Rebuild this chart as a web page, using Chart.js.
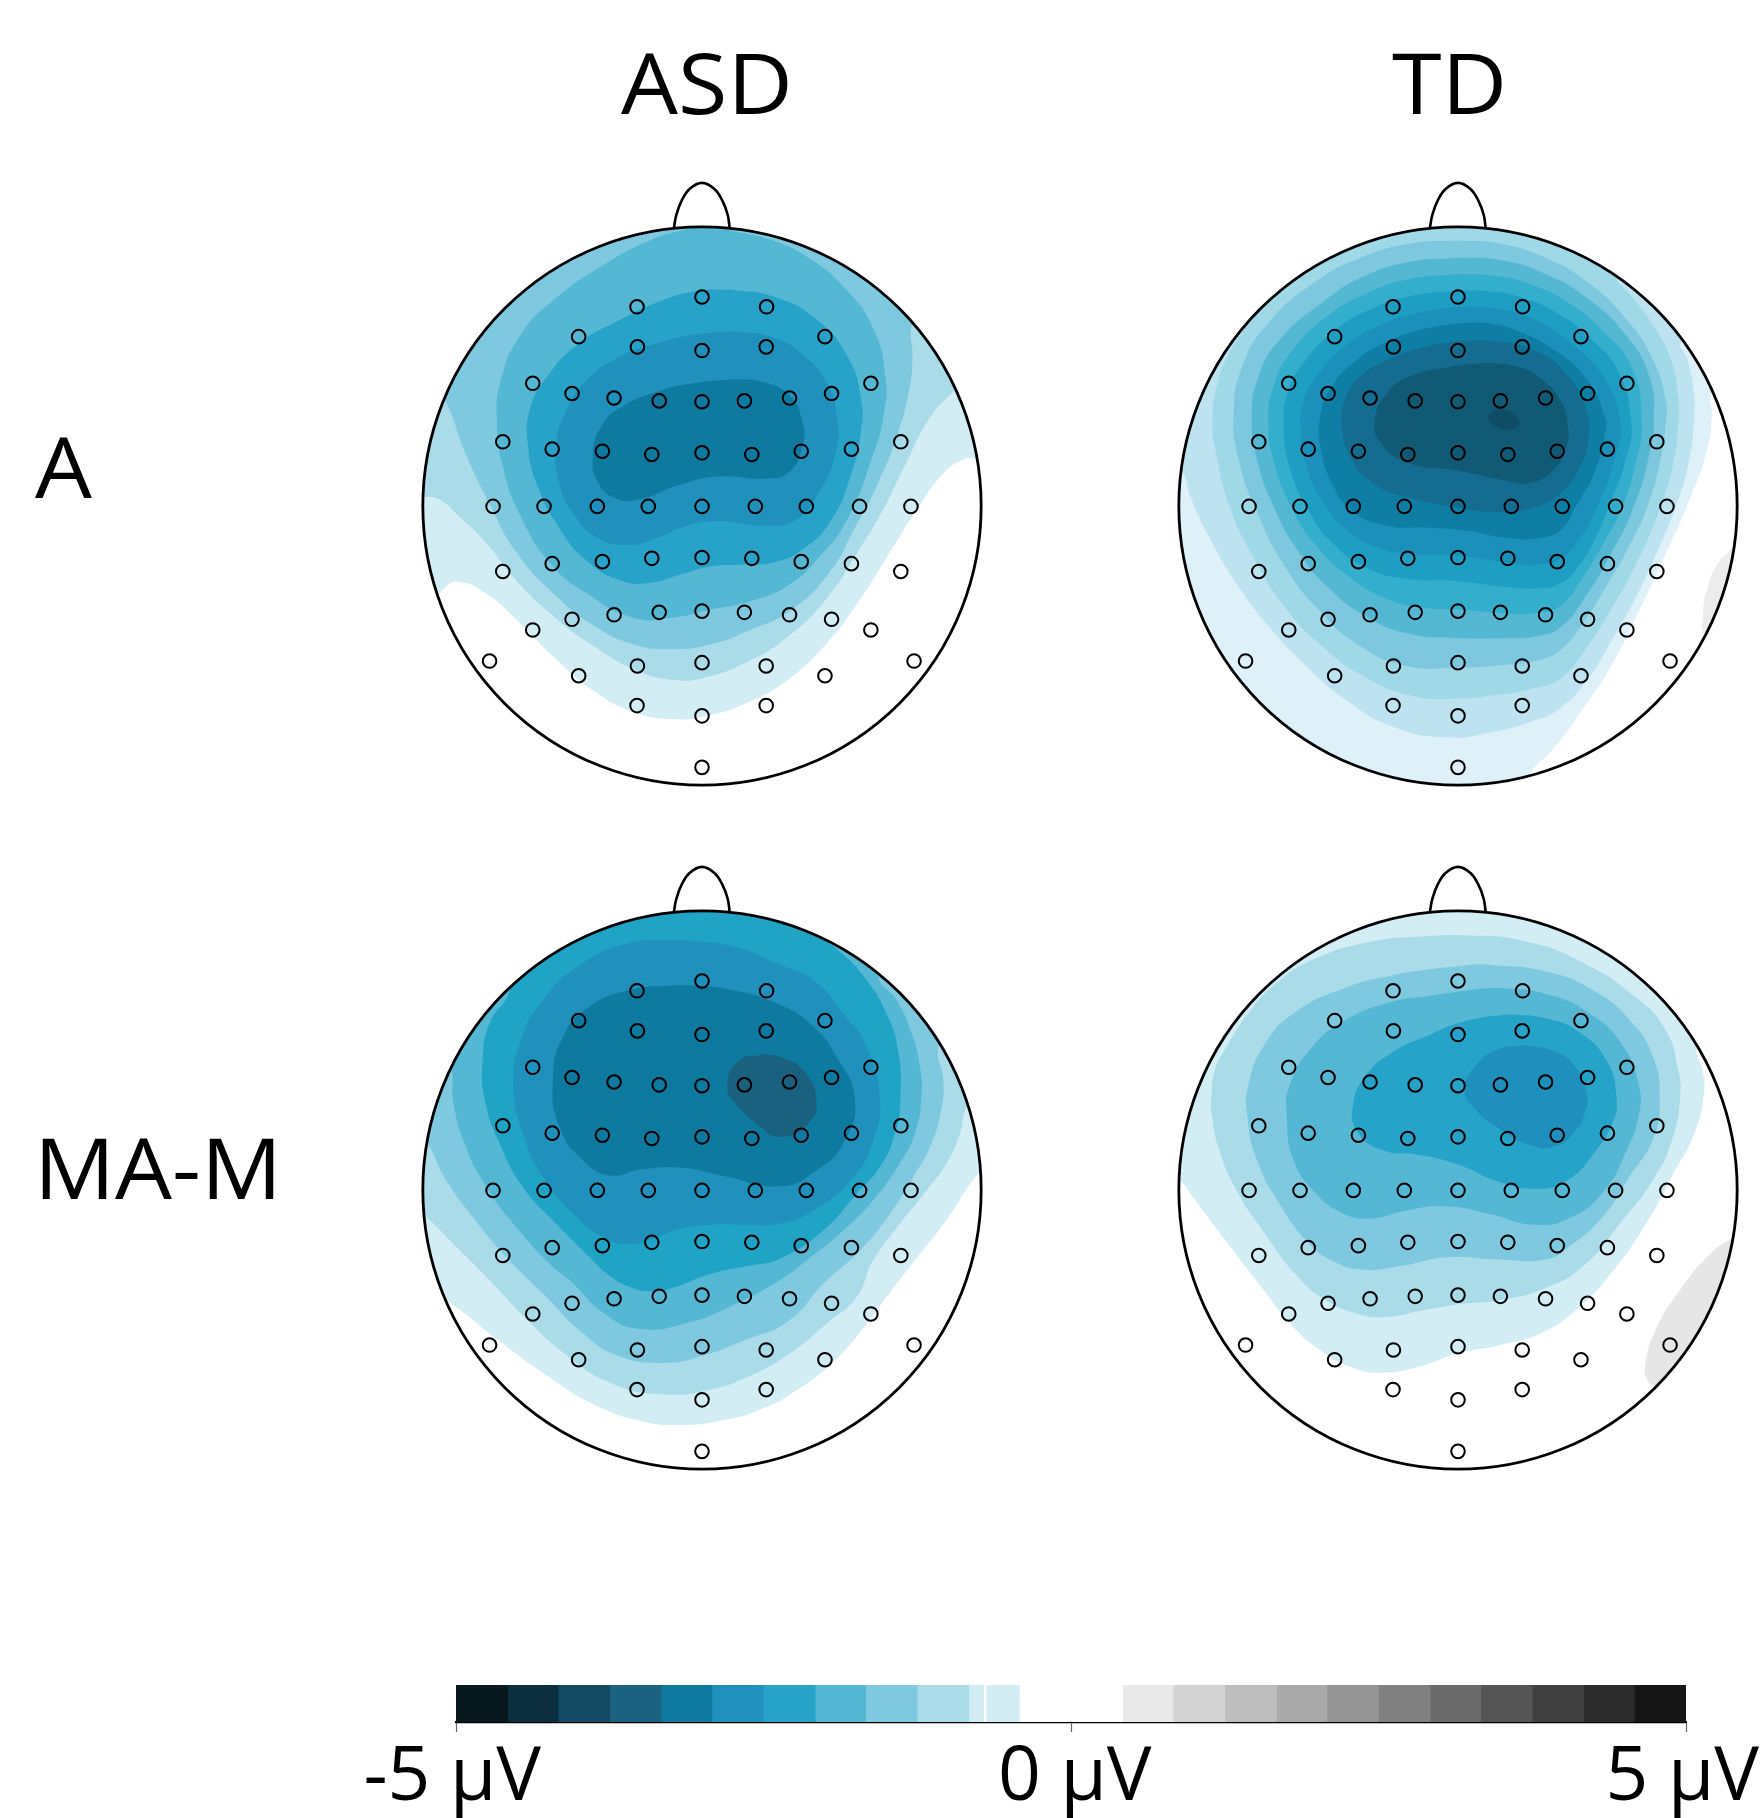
<!DOCTYPE html>
<html>
<head>
<meta charset="utf-8">
<title>ASD / TD topographies</title>
<script src="https://cdn.jsdelivr.net/npm/chart.js@4"></script>
<style>
  html, body { margin: 0; padding: 0; background: #fff; }
  #page { position: relative; width: 1763px; height: 1818px; overflow: hidden; }
  canvas { position: absolute; }
  .lab { position: absolute; font: 85px "Open Sans", sans-serif; color: #000; line-height: 1; white-space: nowrap;
    transform: scaleX(1.06); transform-origin: left top; }
</style>
</head>
<body>
<div id="page">
  <div class="lab" style="left:621px;top:39px">ASD</div>
  <div class="lab" style="left:1392px;top:39px">TD</div>
  <div class="lab" style="left:35px;top:423px">A</div>
  <div class="lab" style="left:34px;top:1124px">MA-M</div>
  <canvas id="asdA" width="670" height="670" style="left:367px;top:171px"></canvas>
  <canvas id="tdA" width="670" height="670" style="left:1123px;top:171px"></canvas>
  <canvas id="asdM" width="670" height="670" style="left:367px;top:855px"></canvas>
  <canvas id="tdM" width="670" height="670" style="left:1123px;top:855px"></canvas>
  <canvas id="bar" width="1763" height="158" style="left:0;top:1660px"></canvas>
</div>
<script>
var sensorX = [777,610,943, 460,1093,611,942,777, 342,1211,443,1110,551,1002,667,886,777,
  265,1288,392,1161,521,1032,648,905,777, 240,371,508,639,777,914,1045,1182,1314,
  265,392,521,648,777,905,1032,1161,1288, 342,443,551,667,777,886,1002,1110,1211,
  231,460,611,777,942,1093,1322, 610,777,942, 777];
var sensorY = [336,360,360, 433,433,458,458,467, 547,547,572,572,583,583,590,590,592,
  690,690,708,708,713,713,721,721,717, 848,848,848,848,848,848,848,848,848,
  1007,988,983,975,973,975,983,988,1007, 1150,1124,1113,1107,1104,1107,1113,1124,1150,
  1226,1262,1238,1230,1238,1262,1226, 1335,1360,1335, 1486];
var earLine = [[705,166],[711,135],[725,100],[745,72],[777,57],[809,72],[829,100],[843,135],[848,166]];

// where the head sits in the units the contours were read in
var asdAFrame = { cx: 777, cy: 847, rx: 717.5, ry: 682.5 };
var tdAFrame = { cx: 773, cy: 847, rx: 725.5, ry: 682.5 };
var asdMFrame = { cx: 777, cy: 845, rx: 717.5, ry: 683 };
var tdMFrame = { cx: 773, cy: 845, rx: 725.5, ry: 683 };

var asdAColors = ['#d3edf4','#aadbe9','#7ec9df','#54b7d3','#27a3c9','#2090bd','#0e7aa0'];
var asdALevels = [
  [[40,1120],[92,1075],[115,1048],[150,1032],[220,1060],[300,1125],[400,1220],[500,1300],[600,1350],[700,1368],[790,1360],[900,1325],[1000,1270],[1100,1180],[1180,1080],[1260,960],[1340,840],[1400,765],[1450,733],[1485,730],[1600,728],[1600,-100],[-100,-100],[-100,1120]],
  [[0,825],[65,825],[100,830],[150,870],[220,935],[300,1030],[400,1120],[500,1190],[600,1245],[700,1272],[790,1265],[900,1225],[1000,1165],[1100,1070],[1170,970],[1240,860],[1300,745],[1360,635],[1420,570],[1500,500],[1600,-100],[-100,-100],[-100,825]],
  [[80,540],[118,590],[170,720],[230,840],[300,960],[400,1065],[500,1140],[600,1185],[700,1197],[800,1185],[900,1150],[1000,1105],[1100,1015],[1170,900],[1230,790],[1280,670],[1310,560],[1318,480],[1315,410],[1340,380],[1600,-100],[-100,-100],[-100,540]],
  [[800,150],[745,168],[650,195],[520,260],[400,340],[310,430],[260,540],[250,640],[265,750],[310,870],[390,990],[480,1060],[600,1120],[700,1120],[800,1100],[900,1080],[1000,1040],[1080,970],[1150,880],[1210,740],[1245,620],[1248,530],[1220,420],[1150,320],[1050,240],[950,195],[850,172]],
  [[850,318],[760,322],[660,350],[560,395],[460,450],[380,530],[335,610],[330,700],[355,800],[410,900],[480,980],[570,1030],[640,1035],[720,1015],[800,995],[880,990],[960,985],[1040,950],[1110,880],[1160,770],[1185,670],[1185,580],[1150,480],[1070,390],[960,335]],
  [[860,420],[760,428],[660,450],[570,480],[480,540],[425,620],[403,700],[410,790],[450,870],[510,925],[590,942],[660,925],[740,895],[820,885],[940,895],[1020,880],[1080,810],[1120,720],[1125,640],[1100,550],[1040,480],[960,435]],
  [[860,537],[770,545],[670,565],[570,605],[520,650],[497,720],[510,790],[560,830],[620,830],[720,795],[820,775],[940,780],[1000,765],[1035,700],[1035,640],[1000,575],[930,543]]
];

var tdAColors = ['#dff1f8','#bde3f0','#9fd8e6','#7dc8de','#55b8d3','#33aecd','#1f9ec4','#1a90bb','#0f7ea5','#156c91','#115a75','#0f4d66'];
var tdALevels = [
  [[920,1700],[920,1560],[950,1510],[1030,1430],[1100,1340],[1170,1240],[1240,1110],[1310,970],[1380,820],[1420,710],[1433,620],[1430,580],[1470,500],[1600,-100],[-100,-100],[-100,1700]],
  [[20,740],[55,760],[80,830],[130,930],[200,1040],[280,1140],[380,1240],[480,1320],[600,1385],[740,1413],[860,1400],[960,1375],[1040,1340],[1110,1270],[1170,1180],[1230,1080],[1290,960],[1339,848],[1375,730],[1386,640],[1386,570],[1370,490],[1352,446],[1400,400],[1600,-100],[-100,-100],[-100,740]],
  [[200,380],[225,395],[180,470],[150,540],[135,640],[145,720],[180,850],[240,970],[320,1090],[420,1190],[540,1270],[660,1312],[770,1318],[880,1308],[960,1295],[1040,1268],[1110,1190],[1170,1100],[1230,1000],[1300,848],[1335,730],[1346,640],[1346,590],[1330,500],[1290,420],[1225,335],[1180,285],[1160,200],[1600,-100],[-100,-100],[-100,380]],
  [[773,198],[650,205],[520,240],[400,300],[280,400],[215,500],[190,620],[205,740],[250,860],[320,990],[410,1100],[520,1190],[640,1238],[770,1242],[900,1235],[980,1225],[1040,1198],[1100,1130],[1160,1040],[1215,950],[1265,848],[1300,730],[1313,640],[1313,590],[1280,490],[1210,390],[1110,300],[1000,240],[880,205]],
  [[773,240],[650,250],[530,285],[420,350],[310,440],[255,530],[237,630],[250,730],[295,850],[360,960],[440,1050],[540,1120],[650,1160],[770,1170],[900,1170],[980,1165],[1040,1143],[1100,1075],[1170,965],[1230,848],[1268,730],[1282,640],[1270,530],[1210,430],[1110,340],[1000,280],[880,245]],
  [[773,280],[650,292],[540,325],[430,385],[340,470],[295,550],[280,640],[295,740],[340,850],[405,945],[490,1020],[590,1075],[680,1095],[780,1100],[900,1110],[980,1108],[1040,1090],[1095,1025],[1150,940],[1200,848],[1238,730],[1251,640],[1225,510],[1150,420],[1060,350],[960,305],[870,285]],
  [[773,320],[660,332],[550,365],[450,420],[370,500],[330,570],[320,650],[335,750],[380,850],[450,940],[540,1000],[640,1025],[760,1030],[900,1045],[980,1048],[1040,1035],[1090,990],[1130,925],[1165,848],[1210,730],[1223,640],[1190,520],[1120,440],[1030,375],[930,335],[850,322]],
  [[773,360],[670,375],[570,405],[480,455],[410,525],[372,590],[365,660],[380,750],[425,840],[490,910],[570,950],[660,965],[770,968],[900,985],[980,990],[1040,975],[1090,925],[1135,848],[1180,730],[1194,640],[1150,530],[1080,460],[990,400],[880,365]],
  [[773,400],[680,415],[590,445],[510,490],[445,555],[415,630],[415,700],[445,790],[500,860],[590,895],[700,900],[800,908],[900,925],[985,925],[1040,905],[1079,848],[1130,760],[1155,670],[1155,630],[1110,540],[1030,470],[930,420],[850,400]],
  [[773,443],[680,460],[590,490],[520,530],[478,590],[472,660],[495,730],[550,790],[640,825],[770,850],[880,862],[970,850],[1040,815],[1090,750],[1112,680],[1105,610],[1060,530],[980,470],[880,445]],
  [[850,497],[750,507],[650,530],[590,570],[557,635],[570,690],[640,740],[770,760],[900,785],[960,790],[1020,760],[1055,700],[1058,650],[1040,590],[980,530],[920,505]],
  [[850,630],[870,612],[905,615],[930,635],[925,655],[890,660],[860,645]]
];
var tdAGrey = [[1487,950],[1450,985],[1422,1045],[1410,1110],[1418,1160],[1500,1160],[1560,1000]];

var asdMColors = ['#d3edf4','#aadbe9','#7ec9df','#54b7d3','#1fa4c6','#2090bd','#0e7aa0','#1a607f'];
var asdMLevels = [
  [[60,1085],[135,1125],[250,1210],[380,1300],[500,1370],[620,1410],[720,1420],[820,1410],[920,1385],[1020,1335],[1120,1260],[1190,1185],[1251,1107],[1337,1001],[1405,919],[1487,805],[1600,700],[1600,-100],[-100,-100],[-100,1085]],
  [[40,890],[69,911],[137,976],[223,1058],[330,1165],[430,1250],[550,1320],[680,1345],[790,1335],[900,1300],[1010,1240],[1100,1170],[1174,1107],[1217,1017],[1285,928],[1354,846],[1405,780],[1440,707],[1453,650],[1480,600],[1600,-100],[-100,-100],[-100,890]],
  [[50,700],[73,731],[120,821],[188,911],[274,1009],[377,1107],[470,1195],[560,1250],[680,1268],[780,1250],[880,1215],[1000,1165],[1088,1075],[1183,993],[1260,903],[1320,813],[1367,731],[1393,642],[1397,576],[1384,494],[1420,440],[1600,-100],[-100,-100],[-100,700]],
  [[110,530],[133,552],[137,625],[167,731],[223,838],[300,936],[386,1026],[437,1066],[530,1150],[620,1185],[740,1170],[850,1130],[977,1066],[1046,1017],[1140,944],[1217,870],[1285,780],[1324,707],[1341,617],[1337,543],[1316,462],[1277,380],[1230,323],[1260,280],[1300,-100],[-100,-100],[-100,530]],
  [[260,330],[283,356],[231,437],[213,527],[219,625],[257,731],[317,838],[394,919],[488,1009],[540,1055],[590,1082],[640,1093],[700,1085],[800,1050],[900,1030],[977,1013],[1088,944],[1174,854],[1234,789],[1273,707],[1287,625],[1281,503],[1251,413],[1200,331],[1131,262],[1063,217],[977,185],[880,160],[880,100],[260,100],[230,300]],
  [[720,233],[591,241],[471,290],[369,380],[309,486],[293,593],[317,707],[368,813],[446,903],[523,960],[591,977],[660,960],[720,940],[800,930],[890,930],[977,927],[1063,895],[1166,813],[1217,723],[1234,625],[1200,494],[1140,413],[1063,331],[977,294],[860,250]],
  [[720,343],[591,356],[488,396],[420,470],[394,576],[411,691],[471,772],[540,809],[620,795],[720,790],[830,810],[977,836],[1071,797],[1140,731],[1170,625],[1123,519],[1063,445],[977,392],[850,355]],
  [[935,513],[977,519],[1037,552],[1071,625],[1050,682],[977,715],[920,685],[860,630],[842,590],[870,530]]
];

var tdMColors = ['#d3edf4','#aadbe9','#7ec9df','#54b7d3','#25a3c8','#1f90bd'];
var tdMLevels = [
  [[20,790],[55,825],[90,870],[170,970],[260,1080],[340,1175],[420,1240],[500,1280],[580,1292],[680,1275],[770,1245],[880,1225],[1000,1190],[1090,1130],[1170,1050],[1260,930],[1330,810],[1390,700],[1412,610],[1410,560],[1395,490],[1440,440],[1600,-100],[-100,-100],[-100,790]],
  [[130,640],[142,550],[175,490],[230,410],[300,340],[400,280],[550,237],[680,225],[790,222],[950,237],[1100,290],[1230,370],[1310,450],[1345,550],[1350,620],[1330,720],[1280,820],[1200,920],[1100,1030],[1000,1085],[880,1115],[770,1125],[680,1140],[590,1155],[520,1150],[430,1115],[350,1050],[270,950],[200,850],[150,740]],
  [[830,292],[700,305],[600,320],[480,350],[350,410],[270,490],[228,590],[225,660],[250,770],[310,880],[380,970],[450,1020],[530,1040],[630,1030],[740,1010],[880,1015],[1000,1015],[1060,985],[1150,910],[1220,810],[1280,720],[1297,620],[1280,520],[1220,430],[1130,360],[1000,310]],
  [[830,352],[700,370],[600,385],[480,430],[390,500],[335,590],[328,660],[345,770],[400,850],[470,900],[540,915],[640,895],[740,885],[860,905],[970,930],[1060,915],[1150,850],[1210,750],[1243,660],[1243,590],[1200,490],[1110,410],[1000,365],[900,352]],
  [[905,415],[800,430],[700,465],[600,510],[530,570],[500,640],[510,700],[570,745],[680,760],[780,785],[880,825],[985,842],[1060,820],[1130,750],[1175,680],[1185,620],[1160,530],[1090,460],[1000,425]],
  [[945,490],[880,500],[820,540],[790,600],[820,650],[880,695],[960,735],[1020,740],[1070,710],[1105,650],[1105,600],[1075,540],[1020,505]]
];
var tdMGrey = [[1490,960],[1430,1000],[1350,1090],[1290,1180],[1260,1270],[1265,1310],[1285,1325],[1400,1340],[1560,1100]];

// colour bar
var barEdges = [-5,-4.58,-4.17,-3.75,-3.33,-2.92,-2.5,-2.08,-1.67,-1.25,-0.83,-0.42,0,0.42,0.83,1.25,1.67,2.08,2.5,2.92,3.33,3.75,4.17,4.58,5];
var barColors = ['#07191f','#0c2f40','#124b63','#1a627f','#0e7aa0','#2090bd','#27a3c9','#54b7d3','#7ec9df','#aadbe9','#d2ecf3','#ffffff',
  '#ffffff','#e9e9e9','#d3d3d3','#bebebe','#a9a9a9','#959595','#808080','#6a6a6a','#555555','#404040','#2b2b2b','#151515'];
var barGap = [-0.705, -0.69];
var barTicks = [-5, 0, 5];
var barTickLabels = ['-5 µV\u200a', '\u200a0 µV', '5 µV\u200a'];

function toHead(frame, pts) {
  return pts.map(function (p) {
    return { x: (p[0] - frame.cx) / frame.rx, y: (frame.cy - p[1]) / frame.ry };
  });
}

function shape(frame, pts, color) {
  var data = toHead(frame, pts);
  data.push(data[0]);
  return { data: data, showLine: true, fill: 'shape', backgroundColor: color, borderWidth: 0,
    tension: 0.5, capBezierPoints: false, pointRadius: 0 };
}

function headRadius(ctx) {
  var s = ctx.chart.scales.x;
  return s.getPixelForValue(1) - s.getPixelForValue(0);
}

function drawHead(id, frame, levels, colors, grey) {
  var sets = [];
  if (grey) sets.push(shape(frame, grey, grey === tdAGrey ? '#ececec' : '#e6e6e6'));
  levels.forEach(function (pts, i) { sets.push(shape(frame, pts, colors[i])); });
  // white ring hides what runs past the scalp
  sets.push({ data: [{ x: 0, y: 0 }], clip: false, pointBackgroundColor: 'rgba(0,0,0,0)',
    pointBorderColor: '#fff', pointBorderWidth: 200,
    pointRadius: function (ctx) { return headRadius(ctx) + 100; } });
  sets.push({ data: [{ x: 0, y: 0 }], clip: false, pointBackgroundColor: 'rgba(0,0,0,0)',
    pointBorderColor: '#000', pointBorderWidth: 2.8, pointRadius: headRadius });
  sets.push({ data: toHead(asdAFrame, earLine), showLine: true, borderColor: '#000', borderWidth: 2.6,
    tension: 0.4, pointRadius: 0, fill: false });
  sets.push({ data: toHead(asdAFrame, sensorX.map(function (x, i) { return [x, sensorY[i]]; })),
    pointRadius: 6.8, pointBorderWidth: 2, pointBorderColor: '#000', pointBackgroundColor: 'rgba(0,0,0,0)' });
  new Chart(document.getElementById(id), {
    type: 'scatter',
    data: { datasets: sets.reverse() },
    options: {
      responsive: false,
      animation: false,
      layout: { padding: 0, autoPadding: false },
      plugins: { legend: { display: false }, tooltip: { enabled: false } },
      scales: {
        x: { display: false, min: -1.2, max: 1.2 },
        y: { display: false, min: -1.2, max: 1.2 }
      }
    }
  });
}

drawHead('asdA', asdAFrame, asdALevels, asdAColors);
drawHead('tdA', tdAFrame, tdALevels, tdAColors, tdAGrey);
drawHead('asdM', asdMFrame, asdMLevels, asdMColors);
drawHead('tdM', tdMFrame, tdMLevels, tdMColors, tdMGrey);

var barSets = barColors.map(function (c, i) {
  return { data: [[barEdges[i], barEdges[i + 1]]], backgroundColor: c, borderWidth: 0,
    barPercentage: 1, categoryPercentage: 1, grouped: false };
});
barSets.unshift({ data: [barGap], backgroundColor: '#fff', borderWidth: 0, barPercentage: 1, categoryPercentage: 1, grouped: false });

new Chart(document.getElementById('bar'), {
  type: 'bar',
  data: { labels: [''], datasets: barSets },
  options: {
    indexAxis: 'y',
    responsive: false,
    animation: false,
    layout: { padding: { left: 456, right: 77, top: 25, bottom: 0 }, autoPadding: false },
    plugins: { legend: { display: false }, tooltip: { enabled: false } },
    scales: {
      y: { display: false },
      x: {
        z: 1,
        min: -5,
        max: 5,
        afterFit: function (s) { s.paddingLeft = 0; s.paddingRight = 0; s.height = 96; },
        afterBuildTicks: function (s) { s.ticks = barTicks.map(function (v) { return { value: v }; }); },
        border: { color: '#000', width: 2.2 },
        grid: { drawOnChartArea: false, tickLength: 10, tickColor: '#666', tickWidth: 1.2 },
        ticks: {
          autoSkip: false,
          maxRotation: 0,
          padding: 9,
          color: '#000',
          font: { family: '"Open Sans"', size: 75, lineHeight: 1 },
          callback: function (v) { return barTickLabels[barTicks.indexOf(v)]; }
        }
      }
    }
  }
});
</script>
</body>
</html>
